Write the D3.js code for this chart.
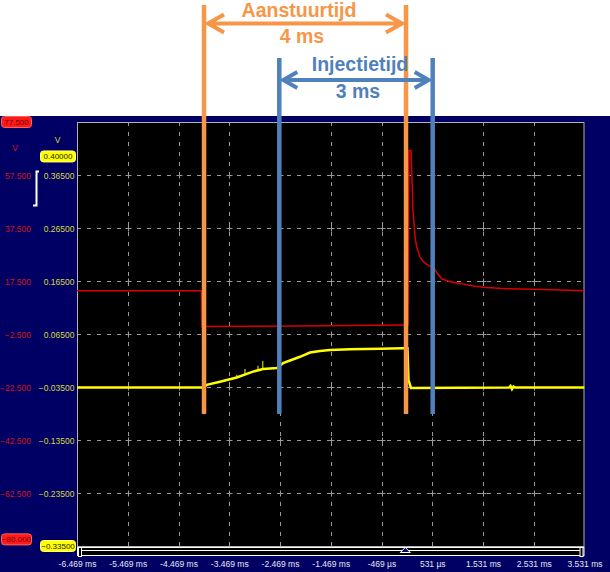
<!DOCTYPE html>
<html>
<head>
<meta charset="utf-8">
<script src="https://cdn.jsdelivr.net/npm/d3@7"></script>
<style>
  html, body { margin: 0; padding: 0; background: #fff; }
  svg { display: block; }
  text { font-family: "Liberation Sans", Arial, sans-serif; }
</style>
</head>
<body>
<div id="graph"></div>
<script>
const w = 610;
const h = 572;
const plot = { left: 77, right: 584.5, top: 122, bottom: 546 };
const navy = "#000064";

// horizontal axis, ms
const timeTicks = [-6.469, -5.469, -4.469, -3.469, -2.469, -1.469, -0.469, 0.531, 1.531, 2.531, 3.531];
const timeLabels = ["-6.469 ms", "-5.469 ms", "-4.469 ms", "-3.469 ms", "-2.469 ms", "-1.469 ms", "-469 µs", "531 µs", "1.531 ms", "2.531 ms", "3.531 ms"];
// channel A (red) and B (yellow) scales
const redTicks = [57.5, 37.5, 17.5, -2.5, -22.5, -42.5, -62.5];
const voltTicks = [0.365, 0.265, 0.165, 0.065, -0.035, -0.135, -0.235];
const redLimits = [77.5, -80];
const voltLimits = [0.4, -0.335];

// traces: [ms, value]
const redTrace = [
  [-6.469, 13.8], [-4.016, 13.8], [-4.006, 0.3], [-2.075, 0.5], [-0.045, 0.9], [0.053, 0.9],
  [0.073, 66.7], [0.112, 66.7], [0.132, 55.6], [0.152, 44.3], [0.191, 34.2], [0.224, 30.4],
  [0.289, 26.6], [0.354, 24.8], [0.420, 23.8], [0.506, 22.9], [0.591, 21.7], [0.625, 20.5],
  [0.723, 18.25], [0.886, 17.2], [1.078, 16.6], [1.341, 15.6], [1.531, 15.1], [1.990, 14.6],
  [2.516, 14.4], [3.531, 13.8]
];
const yellowTrace = [
  [-6.469, -0.036], [-3.986, -0.036], [-3.913, -0.031], [-3.651, -0.025], [-3.322, -0.017],
  [-3.001, -0.006], [-2.804, -0.001], [-2.528, 0.001], [-2.410, 0.010], [-2.272, 0.015],
  [-2.075, 0.022], [-1.878, 0.030], [-1.681, 0.033], [-1.484, 0.035], [-1.090, 0.036],
  [-0.499, 0.037], [-0.045, 0.038], [0.043, 0.038], [0.063, -0.022], [0.093, -0.031],
  [0.112, -0.037], [2.044, -0.036], [2.073, -0.033], [2.102, -0.039], [2.132, -0.034],
  [2.161, -0.036], [3.531, -0.036]
];
// short glitches on the yellow trace: [ms, from V, to V]
const yellowSpikes = [[-3.322, -0.017, -0.012], [-3.159, -0.013, -0.001], [-2.902, -0.004, 0.005], [-2.810, -0.002, 0.014]];

// annotation markers, ms
const aanstuurTimes = [-3.966, 0.014];
const injectieTimes = [-2.483, 0.540];

const x = d3.scaleLinear().domain([-6.469, 3.531]).range([plot.left, plot.right]);
const yV = d3.scaleLinear().domain([-0.335, 0.465]).range([plot.bottom, plot.top]);
const yR = d3.scaleLinear().domain([-82.5, 77.5]).range([plot.bottom, plot.top]);

const svg = d3.select("#graph").append("svg").attr("width", w).attr("height", h);

svg.append("rect").attr("x", 0).attr("y", 116).attr("width", w).attr("height", h - 116).attr("fill", navy);
svg.append("rect")
  .attr("x", plot.left).attr("y", plot.top)
  .attr("width", plot.right - plot.left).attr("height", plot.bottom - plot.top)
  .attr("fill", "#000");

svg.append("clipPath").attr("id", "clip")
  .append("rect")
  .attr("x", plot.left).attr("y", plot.top)
  .attr("width", plot.right - plot.left).attr("height", plot.bottom - plot.top);

// grid
const grid = svg.append("g").attr("stroke", "#9a9a9a").attr("stroke-width", 1);
grid.selectAll(".vg")
  .data(timeTicks.slice(1, -1))
  .enter().append("line")
  .attr("x1", (d) => Math.round(x(d)) + 0.5).attr("x2", (d) => Math.round(x(d)) + 0.5)
  .attr("y1", plot.top).attr("y2", plot.bottom)
  .attr("stroke-dasharray", "4,6");
grid.selectAll(".hg")
  .data(voltTicks)
  .enter().append("line")
  .attr("y1", (d) => Math.round(yV(d)) + 0.5).attr("y2", (d) => Math.round(yV(d)) + 0.5)
  .attr("x1", plot.left).attr("x2", plot.right)
  .attr("stroke-dasharray", "4,6");
const cross = [];
timeTicks.slice(1, -1).forEach((t) => voltTicks.forEach((v) => cross.push([t, v])));
grid.selectAll(".cr")
  .data(cross)
  .enter().append("path")
  .attr("d", (d) => {
    const cx = Math.round(x(d[0])) + 0.5;
    const cy = Math.round(yV(d[1])) + 0.5;
    return `M${cx - 3},${cy}H${cx + 3}M${cx},${cy - 3}V${cy + 3}`;
  });

svg.append("rect")
  .attr("x", plot.left + 0.5).attr("y", plot.top + 0.5)
  .attr("width", plot.right - plot.left - 1).attr("height", plot.bottom - plot.top)
  .attr("fill", "none").attr("stroke", "#b4b4b4");

// traces
const traces = svg.append("g").attr("clip-path", "url(#clip)");
traces.append("path")
  .datum(redTrace)
  .attr("fill", "none").attr("stroke", "#d80000").attr("stroke-width", 1.5)
  .attr("d", d3.line().x((d) => x(d[0])).y((d) => yR(d[1])));
traces.selectAll(".spike")
  .data(yellowSpikes)
  .enter().append("line")
  .attr("x1", (d) => x(d[0])).attr("x2", (d) => x(d[0]))
  .attr("y1", (d) => yV(d[1])).attr("y2", (d) => yV(d[2]))
  .attr("stroke", "#a8a800").attr("stroke-width", 1.5);
traces.append("path")
  .datum(yellowTrace)
  .attr("fill", "none").attr("stroke", "#ffff00").attr("stroke-width", 2.5)
  .attr("d", d3.line().x((d) => x(d[0])).y((d) => yV(d[1])));

// axes labels
const xAxis = svg.append("g")
  .attr("transform", "translate(0, 561)")
  .call(d3.axisBottom(x).tickValues(timeTicks).tickFormat((d, i) => timeLabels[i]).tickSize(0).tickPadding(0));
xAxis.select(".domain").remove();
xAxis.selectAll("text").attr("fill", "#e6e6f0").attr("font-size", 8.5).attr("font-family", "Liberation Sans, Arial, sans-serif");

const redAxis = svg.append("g")
  .attr("transform", "translate(31, 0.5)")
  .call(d3.axisLeft(yR).tickValues(redTicks).tickFormat(d3.format(".3f")).tickSize(0).tickPadding(0));
redAxis.select(".domain").remove();
redAxis.selectAll("text").attr("fill", "#d41414").attr("font-size", 8.5).attr("font-family", "Liberation Sans, Arial, sans-serif");

const voltAxis = svg.append("g")
  .attr("transform", "translate(74.5, 0.5)")
  .call(d3.axisLeft(yV).tickValues(voltTicks).tickFormat(d3.format(".5f")).tickSize(0).tickPadding(0));
voltAxis.select(".domain").remove();
voltAxis.selectAll("text").attr("fill", "#d8d83a").attr("font-size", 8.5).attr("font-family", "Liberation Sans, Arial, sans-serif");

// unit labels and limit boxes
svg.append("text").attr("x", 15).attr("y", 151).attr("text-anchor", "middle")
  .attr("fill", "#d41414").attr("font-size", 8.5).text("V");
svg.append("text").attr("x", 57.5).attr("y", 143).attr("text-anchor", "middle")
  .attr("fill", "#d8d83a").attr("font-size", 8.5).text("V");
svg.append("path").attr("d", "M39,171.5H36.5V205.5H33").attr("fill", "none").attr("stroke", "#fff").attr("stroke-width", 2);

const redBox = svg.selectAll(".rbox").data(redLimits).enter().append("g")
  .attr("transform", (d) => `translate(0, ${yR(d)})`);
redBox.append("rect").attr("x", 1.5).attr("y", -5.5).attr("width", 30).attr("height", 11).attr("rx", 3)
  .attr("fill", "#ff1a1a").attr("stroke", "#ff6060");
redBox.append("text").attr("x", 16.5).attr("dy", "0.34em").attr("text-anchor", "middle")
  .attr("fill", "#7a0000").attr("font-size", 8).text((d) => d3.format(".3f")(d));

const voltBox = svg.selectAll(".vbox").data(voltLimits).enter().append("g")
  .attr("transform", (d) => `translate(0, ${yV(d)})`);
voltBox.append("rect").attr("x", 40.5).attr("y", -5.5).attr("width", 35).attr("height", 11).attr("rx", 3)
  .attr("fill", "#ffff00").attr("stroke", "#ffff80");
voltBox.append("text").attr("x", 58).attr("dy", "0.34em").attr("text-anchor", "middle")
  .attr("fill", "#202000").attr("font-size", 8).text((d) => d3.format(".5f")(d));

// scroll bar under the plot
const bar = svg.append("g").attr("stroke", "#fff").attr("fill", "#000");
bar.append("rect").attr("x", plot.left + 0.5).attr("y", 547.5).attr("width", plot.right - plot.left - 1).attr("height", 8);
bar.append("line").attr("x1", plot.left + 4).attr("x2", plot.right - 4).attr("y1", 550.5).attr("y2", 550.5);
bar.append("rect").attr("x", plot.left + 1.5).attr("y", 547.5).attr("width", 3).attr("height", 9);
bar.append("rect").attr("x", plot.right - 4.5).attr("y", 547.5).attr("width", 3).attr("height", 9);
bar.append("path")
  .attr("d", `M${x(0) - 5},552.5L${x(0)},547.5L${x(0) + 5},552.5Z`)
  .attr("fill", navy);

// annotations
const orange = "#f79646";
const blue = "#4f81bd";
svg.selectAll(".aline").data(aanstuurTimes).enter().append("line")
  .attr("x1", (d) => x(d)).attr("x2", (d) => x(d)).attr("y1", 5).attr("y2", 414)
  .attr("stroke", orange).attr("stroke-width", 4.5);
svg.selectAll(".iline").data(injectieTimes).enter().append("line")
  .attr("x1", (d) => x(d)).attr("x2", (d) => x(d)).attr("y1", 58).attr("y2", 414)
  .attr("stroke", blue).attr("stroke-width", 4.5);

function arrow(times, y, color, head, half) {
  const a = x(times[0]) + 4;
  const b = x(times[1]) - 4;
  svg.append("path")
    .attr("d", `M${a},${y}H${b}M${a + head},${y - half}L${a},${y}L${a + head},${y + half}M${b - head},${y - half}L${b},${y}L${b - head},${y + half}`)
    .attr("fill", "none").attr("stroke", color).attr("stroke-width", 4).attr("stroke-linejoin", "miter");
}
arrow(aanstuurTimes, 23.5, orange, 16, 9);
arrow(injectieTimes, 80, blue, 14, 8);

const note = svg.append("g").attr("font-family", "Lato, 'Open Sans', sans-serif").attr("font-weight", "bold")
  .attr("font-size", 19.5).attr("text-anchor", "middle");
note.append("text").attr("x", 299).attr("y", 17).attr("fill", orange).text("Aanstuurtijd");
note.append("text").attr("x", 302).attr("y", 43).attr("fill", orange).text("4 ms");
note.append("text").attr("x", 360).attr("y", 71).attr("fill", blue).text("Injectietijd");
note.append("text").attr("x", 358).attr("y", 98).attr("fill", blue).text("3 ms");
</script>
</body>
</html>
